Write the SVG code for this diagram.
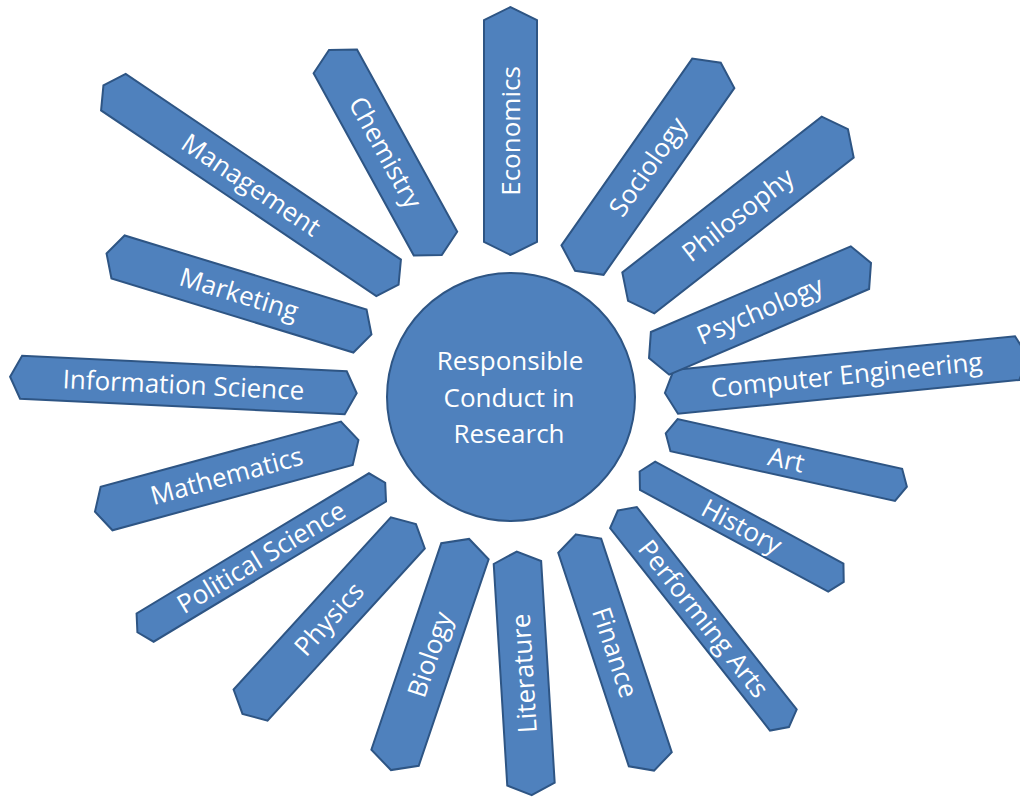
<svg xmlns="http://www.w3.org/2000/svg" width="1020" height="797" viewBox="0 0 1020 797">
<style>
.bar{fill:#4F81BD;stroke:#2E5584;stroke-width:2;stroke-linejoin:miter}
.lbl{font-family:"Open Sans","Liberation Sans",sans-serif;font-size:26px;fill:#FFFFFF;text-anchor:middle}
</style>
<rect width="1020" height="797" fill="#FFFFFF"/>
<g id="connectors"></g>
<g id="economics" transform="translate(510.5,131) rotate(-90)">
<polygon class="bar" points="-124,0 -111,-26.5 111,-26.5 124,0 111,26.5 -111,26.5"/>
<text class="lbl" y="9">Economics</text></g>
<g id="chemistry" transform="translate(385.4,152.5) rotate(61.2)">
<polygon class="bar" points="-117,0 -104,-24.75 104,-24.75 117,0 104,24.75 -104,24.75"/>
<text class="lbl" y="9">Chemistry</text></g>
<g id="management" transform="translate(251,185) rotate(34)">
<polygon class="bar" points="-178,0 -166,-22 166,-22 178,0 166,22 -166,22"/>
<text class="lbl" y="9">Management</text></g>
<g id="marketing" transform="translate(239,294) rotate(17)">
<polygon class="bar" points="-138.5,0 -126.5,-22.5 126.5,-22.5 138.5,0 126.5,22.5 -126.5,22.5"/>
<text class="lbl" y="9">Marketing</text></g>
<g id="information-science" transform="translate(183.4,385) rotate(2.74)">
<polygon class="bar" points="-173.5,0 -162.5,-21.5 162.5,-21.5 173.5,0 162.5,21.5 -162.5,21.5"/>
<text class="lbl" y="9">Information Science</text></g>
<g id="mathematics" transform="translate(226.7,475.9) rotate(-15.2)">
<polygon class="bar" points="-136.5,0 -124.5,-22.5 124.5,-22.5 136.5,0 124.5,22.5 -124.5,22.5"/>
<text class="lbl" y="9">Mathematics</text></g>
<g id="political-science" transform="translate(261.3,557.5) rotate(-31.1)">
<polygon class="bar" points="-144.7,0 -135.7,-16.5 135.7,-16.5 144.7,0 135.7,16.5 -135.7,16.5"/>
<text class="lbl" y="9">Political Science</text></g>
<g id="physics" transform="translate(329.2,619) rotate(-47.6)">
<polygon class="bar" points="-128.6,0 -116.6,-23 116.6,-23 128.6,0 116.6,23 -116.6,23"/>
<text class="lbl" y="9">Physics</text></g>
<g id="biology" transform="translate(430,654.5) rotate(-71.3)">
<polygon class="bar" points="-122,0 -109,-25 109,-25 122,0 109,25 -109,25"/>
<text class="lbl" y="9">Biology</text></g>
<g id="literature" transform="translate(524.2,673.3) rotate(-93.5)">
<polygon class="bar" points="-122,0 -111,-23.75 111,-23.75 122,0 111,23.75 -111,23.75"/>
<text class="lbl" y="9">Literature</text></g>
<g id="finance" transform="translate(615,652.5) rotate(71.7)">
<polygon class="bar" points="-124.4,0 -112.4,-22.6 112.4,-22.6 124.4,0 112.4,22.6 -112.4,22.6"/>
<text class="lbl" y="9">Finance</text></g>
<g id="performing-arts" transform="translate(703.4,618.8) rotate(51.7)">
<polygon class="bar" points="-138,0 -129,-17 129,-17 138,0 129,17 -129,17"/>
<text class="lbl" y="9">Performing Arts</text></g>
<g id="history" transform="translate(741.7,526.7) rotate(28.4)">
<polygon class="bar" points="-116,0 -107,-16 107,-16 116,0 107,16 -107,16"/>
<text class="lbl" y="9">History</text></g>
<g id="art" transform="translate(786.3,460) rotate(12.5)">
<polygon class="bar" points="-123.5,0 -115,-16.5 115,-16.5 123.5,0 115,16.5 -115,16.5"/>
<text class="lbl" y="9">Art</text></g>
<g id="computer-engineering" transform="translate(846.5,375) rotate(-5.66)">
<polygon class="bar" points="-182.5,0 -171.5,-22 171.5,-22 182.5,0 171.5,22 -171.5,22"/>
<text class="lbl" y="9">Computer Engineering</text></g>
<g id="psychology" transform="translate(760,310.5) rotate(-23.2)">
<polygon class="bar" points="-120.75,0 -108.75,-23.25 108.75,-23.25 120.75,0 108.75,23.25 -108.75,23.25"/>
<text class="lbl" y="9">Psychology</text></g>
<g id="philosophy" transform="translate(738,215) rotate(-38)">
<polygon class="bar" points="-139.5,0 -126.5,-26 126.5,-26 139.5,0 126.5,26 -126.5,26"/>
<text class="lbl" y="9">Philosophy</text></g>
<g id="sociology" transform="translate(647.9,166.7) rotate(-55)">
<polygon class="bar" points="-127,0 -114,-25.7 114,-25.7 127,0 114,25.7 -114,25.7"/>
<text class="lbl" y="9">Sociology</text></g>
<g id="center">
<circle class="bar" cx="511" cy="397" r="124"/>
<text class="lbl" x="510" y="370">Responsible</text>
<text class="lbl" x="509" y="407">Conduct in</text>
<text class="lbl" x="509" y="443">Research</text>
</g>
</svg>
